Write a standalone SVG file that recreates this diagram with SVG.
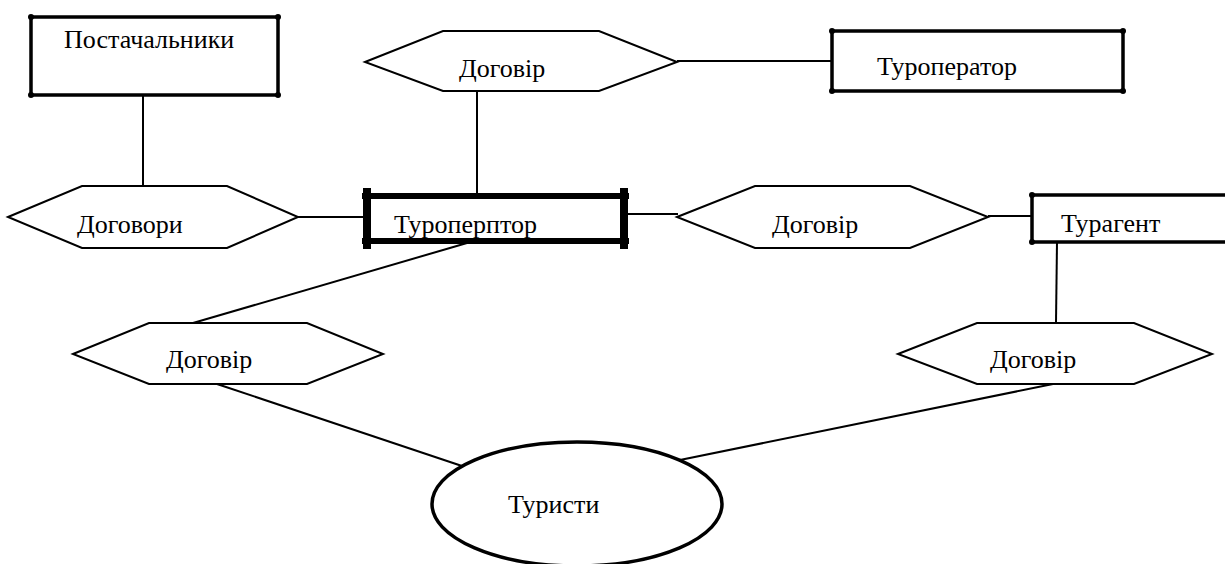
<svg xmlns="http://www.w3.org/2000/svg" width="1225" height="564" viewBox="0 0 1225 564">
  <style>
    .lbl { font-family: "Liberation Serif", "Times New Roman", serif; font-size: 26px; fill: #000; }
    .hex { fill: #fff; stroke: #000; stroke-width: 2; stroke-linejoin: miter; }
    .ent { fill: #fff; stroke: #000; stroke-width: 3.5; }
    .dot { fill: #000; }
    .link { stroke: #000; stroke-width: 2; fill: none; }
    .bold { stroke: #000; stroke-width: 6; fill: none; }
  </style>
  <rect width="1225" height="564" fill="#fff"/>

  <g id="connectors">
    <line class="link" x1="143" y1="95" x2="143" y2="186"/>
    <line class="link" x1="298" y1="217" x2="366" y2="217"/>
    <line class="link" x1="477" y1="91" x2="477" y2="196"/>
    <line class="link" x1="677" y1="61" x2="832" y2="61"/>
    <line class="link" x1="624" y1="214" x2="678" y2="214"/>
    <line class="link" x1="988" y1="216" x2="1032" y2="216"/>
    <line class="link" x1="1057" y1="242" x2="1056" y2="323"/>
    <line class="link" x1="467" y1="243" x2="193" y2="323"/>
    <line class="link" x1="217" y1="384" x2="465" y2="467"/>
    <line class="link" x1="1053" y1="384" x2="675" y2="461"/>
  </g>

  <g id="postachalnyky">
    <rect class="ent" x="31" y="17" width="247" height="78"/>
    <circle class="dot" cx="31" cy="17" r="3"/>
    <circle class="dot" cx="278" cy="17" r="3"/>
    <circle class="dot" cx="31" cy="95" r="3"/>
    <circle class="dot" cx="278" cy="95" r="3"/>
    <text class="lbl" x="64" y="48">Постачальники</text>
  </g>

  <g id="dogovory">
    <polygon class="hex" points="8,217 82,186 227,186 298,217 227,248 82,248"/>
    <text class="lbl" x="77" y="233">Договори</text>
  </g>

  <g id="dogovir-top">
    <polygon class="hex" points="365,62 443,31 599,31 677,62 599,91 443,91"/>
    <text class="lbl" x="459" y="77">Договір</text>
  </g>

  <g id="turoperator">
    <rect class="ent" x="832" y="31" width="291" height="60"/>
    <circle class="dot" cx="832" cy="31" r="3"/>
    <circle class="dot" cx="1123" cy="31" r="3"/>
    <circle class="dot" cx="832" cy="91" r="3"/>
    <circle class="dot" cx="1123" cy="91" r="3"/>
    <text class="lbl" x="877" y="75">Туроператор</text>
  </g>

  <g id="turoperptor">
    <rect x="367" y="196" width="257" height="45" fill="#fff"/>
    <line class="bold" x1="362" y1="196" x2="629" y2="196"/>
    <line class="bold" x1="362" y1="241" x2="629" y2="241"/>
    <line x1="367" y1="188" x2="367" y2="249" stroke="#000" stroke-width="8"/>
    <line x1="624" y1="188" x2="624" y2="249" stroke="#000" stroke-width="8"/>
    <text class="lbl" x="394" y="233">Туроперптор</text>
  </g>

  <g id="dogovir-mid">
    <polygon class="hex" points="677,217 755,186 910,186 988,217 910,248 755,248"/>
    <text class="lbl" x="772" y="233">Договір</text>
  </g>

  <g id="turagent">
    <path class="ent" d="M1232,195 H1032 V242 H1232"/>
    <circle class="dot" cx="1032" cy="195" r="3"/>
    <circle class="dot" cx="1032" cy="242" r="3"/>
    <text class="lbl" x="1061" y="232">Турагент</text>
  </g>

  <g id="dogovir-left">
    <polygon class="hex" points="73,354 149,323 307,323 383,354 307,384 149,384"/>
    <text class="lbl" x="166" y="368">Договір</text>
  </g>

  <g id="dogovir-right">
    <polygon class="hex" points="898,354 977,323 1134,323 1212,354 1134,384 977,384"/>
    <text class="lbl" x="990" y="368">Договір</text>
  </g>

  <g id="turysty">
    <ellipse cx="577" cy="504" rx="145" ry="62" fill="#fff" stroke="#000" stroke-width="3.5"/>
    <text class="lbl" x="508" y="513">Туристи</text>
  </g>
</svg>
